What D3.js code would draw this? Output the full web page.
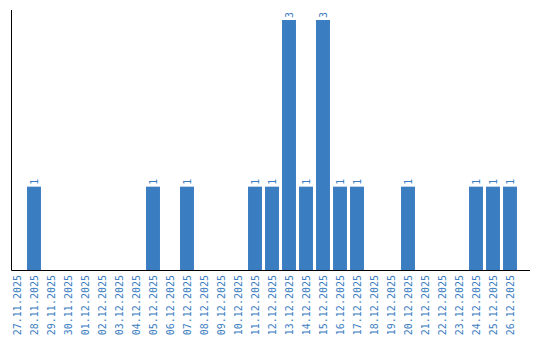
<!DOCTYPE html>
<html>
<head>
<meta charset="utf-8">
<script src="https://cdn.jsdelivr.net/npm/d3@7/dist/d3.min.js"></script>
<style>
  body { margin: 0; background: #fff; }
  text { font-family: "DejaVu Sans Mono", monospace; font-size: 10px; fill: #3b7dc1; }
</style>
</head>
<body>
<div id="chart"></div>
<script>
const dates = ['27.11.2025', '28.11.2025', '29.11.2025', '30.11.2025', '01.12.2025', '02.12.2025',
    '03.12.2025', '04.12.2025', '05.12.2025', '06.12.2025', '07.12.2025', '08.12.2025',
    '09.12.2025', '10.12.2025', '11.12.2025', '12.12.2025', '13.12.2025', '14.12.2025',
    '15.12.2025', '16.12.2025', '17.12.2025', '18.12.2025', '19.12.2025', '20.12.2025',
    '21.12.2025', '22.12.2025', '23.12.2025', '24.12.2025', '25.12.2025', '26.12.2025'];
const counts = [0, 1, 0, 0, 0, 0, 0, 0, 1, 0, 1, 0, 0, 0, 1, 1, 3, 1, 3, 1, 1, 0, 0, 1, 0, 0, 0, 1, 1, 1];

const data = dates.map((d, i) => ({ date: d, value: counts[i] }));

const width = 540, height = 340;
const baseY = 270, topY = 20;
const color = '#3b7dc1';

let svg = d3.select('#chart').append('svg')
    .attr('width', width)
    .attr('height', height);

let x = d3.scaleBand().domain(dates).range([8.5, 518.5])
    .paddingInner(0.18).paddingOuter(0.09);
let y = d3.scaleLinear().domain([0, 3]).range([baseY, topY]);

// bars
svg.append('g').selectAll('rect').data(data.filter(d => d.value > 0)).enter().append('rect')
    .attr('x', d => x(d.date))
    .attr('y', d => y(d.value))
    .attr('width', x.bandwidth())
    .attr('height', d => baseY - y(d.value))
    .attr('fill', color);

// value labels
svg.append('g').selectAll('text').data(data.filter(d => d.value > 0)).enter().append('text')
    .attr('transform', d => 'translate(' + (x(d.date) + x.bandwidth() / 2) + ',' + (y(d.value) - 2) + ') rotate(-90)')
    .attr('dy', '0.35em')
    .attr('text-anchor', 'start')
    .text(d => d.value);

// x axis
let xAxis = d3.axisBottom(x).tickSize(0).tickSizeOuter(0).tickPadding(0);
let gx = svg.append('g').attr('transform', 'translate(0,' + baseY + ')').call(xAxis);
gx.select('.domain').attr('d', 'M11.5,0.5H530').attr('stroke', '#000');
gx.selectAll('.tick text')
    .attr('transform', 'translate(0,5) rotate(-90)')
    .attr('y', 0)
    .attr('dy', '0.35em')
    .attr('text-anchor', 'end')
    .style('font-family', '"DejaVu Sans Mono", monospace')
    .style('font-size', '10px')
    .attr('fill', color);

// y axis line
svg.append('line')
    .attr('x1', 11.5).attr('x2', 11.5)
    .attr('y1', 10).attr('y2', baseY + 0.5)
    .attr('stroke', '#000');
</script>
</body>
</html>
